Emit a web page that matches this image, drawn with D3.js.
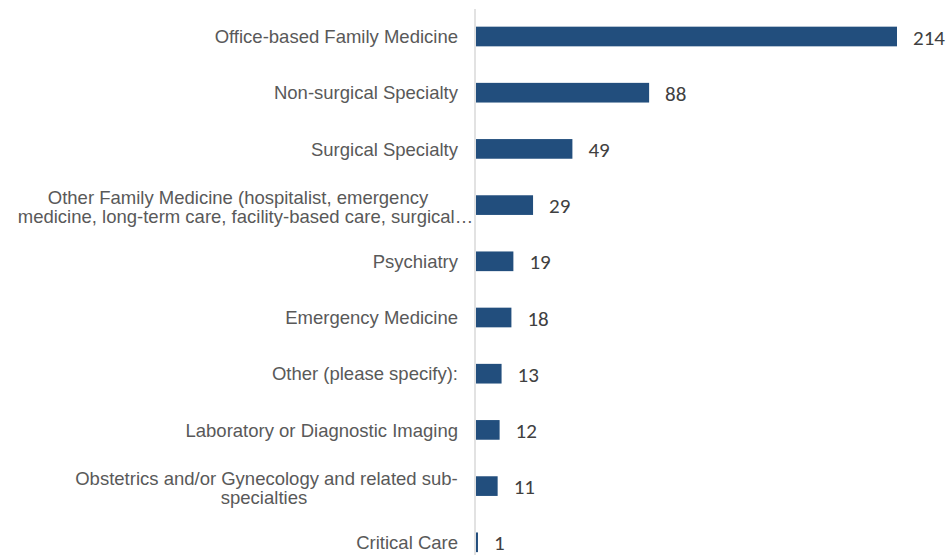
<!DOCTYPE html>
<html>
<head>
<meta charset="utf-8">
<script src="https://cdn.jsdelivr.net/npm/d3@7"></script>
<style>
  html, body { margin: 0; padding: 0; background: #ffffff; }
  svg { display: block; }
</style>
</head>
<body>
<svg id="chart" width="950" height="555"></svg>
<script>
// ---- data ----
const categories = [
  "Office-based Family Medicine",
  "Non-surgical Specialty",
  "Surgical Specialty",
  "Other Family Medicine (hospitalist, emergency medicine, long-term care, facility-based care, surgical…",
  "Psychiatry",
  "Emergency Medicine",
  "Other (please specify):",
  "Laboratory or Diagnostic Imaging",
  "Obstetrics and/or Gynecology and related sub-specialties",
  "Critical Care"
];
const labelLines = [
  ["Office-based Family Medicine"],
  ["Non-surgical Specialty"],
  ["Surgical Specialty"],
  ["Other Family Medicine (hospitalist, emergency", "medicine, long-term care, facility-based care, surgical…"],
  ["Psychiatry"],
  ["Emergency Medicine"],
  ["Other (please specify):"],
  ["Laboratory or Diagnostic Imaging"],
  ["Obstetrics and/or Gynecology and related sub-", "specialties"],
  ["Critical Care"]
];
const values = [214, 88, 49, 29, 19, 18, 13, 12, 11, 1];

// ---- layout ----
const svg = d3.select("#chart");
const x0 = 476;
const x = d3.scaleLinear().domain([0, 214]).range([x0, 897]);
const y = d3.scaleBand().domain(categories).range([8.4, 570.4])
  .paddingInner(0.65).paddingOuter(0.325);

// bars
svg.selectAll("rect.bar").data(values).enter().append("rect")
  .attr("class", "bar")
  .attr("x", x(0))
  .attr("y", (d, i) => y(categories[i]))
  .attr("width", d => x(d) - x(0))
  .attr("height", y.bandwidth())
  .attr("fill", "#224e7d");

// axis line
svg.append("line")
  .attr("x1", 475).attr("x2", 475)
  .attr("y1", 9).attr("y2", 570)
  .attr("stroke", "#d9d9d9").attr("stroke-width", 1.5);

// value labels
svg.selectAll("text.val").data(values).enter().append("text")
  .attr("class", "val")
  .attr("x", d => x(d) + 16)
  .attr("y", (d, i) => y(categories[i]) + y.bandwidth() / 2 + 8)
  .attr("font-family", "Carlito, Calibri, Lato, sans-serif")
  .attr("font-size", 21)
  .attr("fill", "#404040")
  .text(d => d);

// category labels
const fs = 18.5;
// horizontal centres of wrapped label lines (layout only)
const wrapCentre = {3: [238, 245.5], 8: [266.5, 264]};
labelLines.forEach((lines, i) => {
  const cy = y(categories[i]) + y.bandwidth() / 2;
  if (lines.length === 1) {
    svg.append("text")
      .attr("x", 458).attr("y", cy + 6.7)
      .attr("text-anchor", "end")
      .attr("font-family", "Liberation Sans, Arial, sans-serif")
      .attr("font-size", fs).attr("fill", "#595959")
      .text(lines[0]);
  } else {
    lines.forEach((ln, j) => {
      svg.append("text")
        .attr("x", wrapCentre[i][j]).attr("y", cy - 1 + j * 19)
        .attr("text-anchor", "middle")
        .attr("font-family", "Liberation Sans, Arial, sans-serif")
        .attr("font-size", fs).attr("fill", "#595959")
        .text(ln);
    });
  }
});
</script>
</body>
</html>
